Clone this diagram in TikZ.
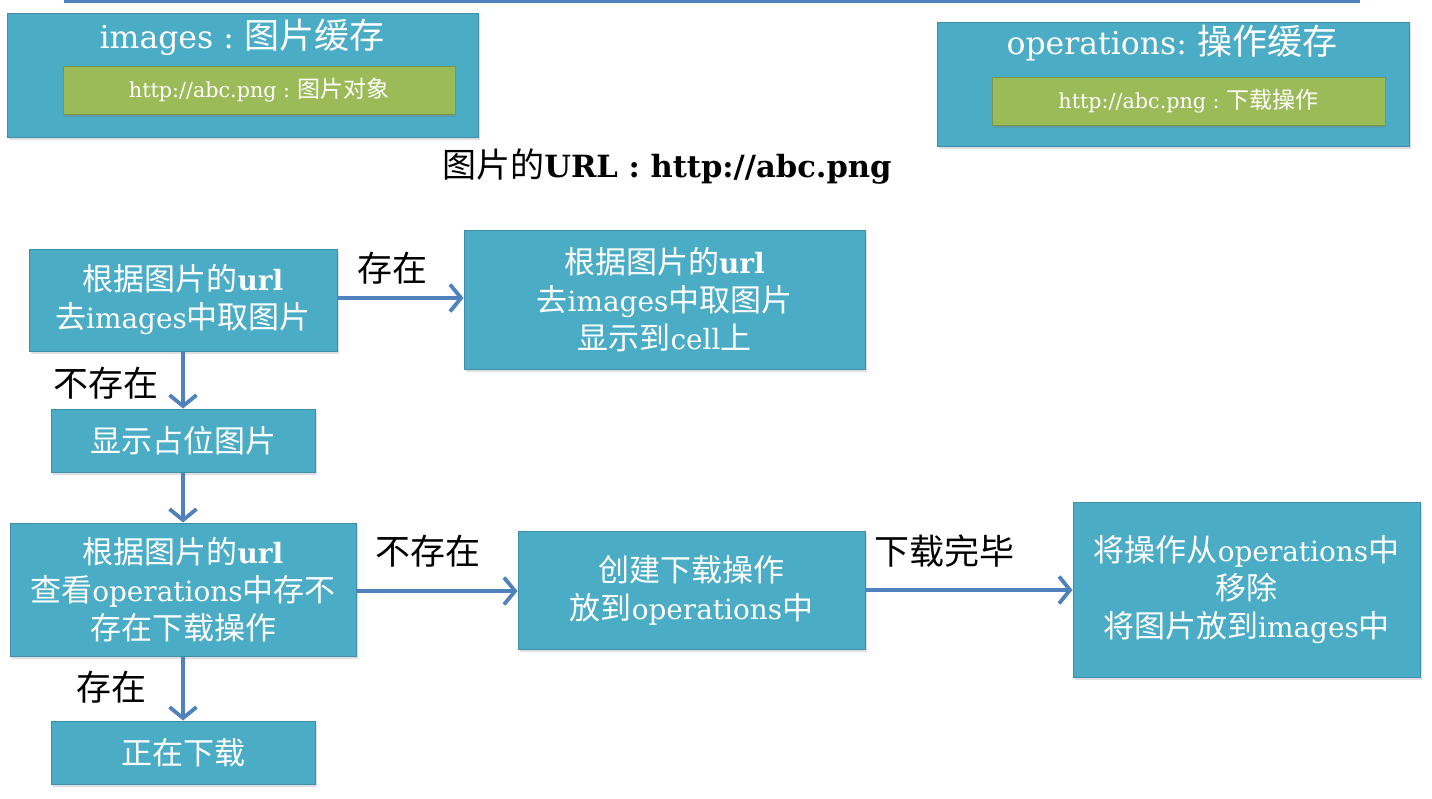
\documentclass[tikz,border=0pt]{standalone}
\usepackage{fontspec}
\setmainfont{Noto Sans CJK SC}
\newfontfamily\latf[Scale=0.9]{DejaVu Serif}
\newcommand{\latn}[1]{{\latf #1}}
\usetikzlibrary{arrows.meta,shadows}
\definecolor{boxfill}{HTML}{4BACC6}
\definecolor{boxline}{HTML}{3D8DAB}
\definecolor{greenfill}{HTML}{9BBB59}
\definecolor{arrowc}{HTML}{4F81BD}
\tikzset{
  bx/.style={draw=boxline, line width=1pt, fill=boxfill, text=white, align=center,
    drop shadow={opacity=0.25, shadow xshift=2pt, shadow yshift=-3pt}},
  gbx/.style={draw=greenfill!80!black, line width=0.6pt, fill=greenfill, text=white, align=center,
    drop shadow={opacity=0.35, shadow xshift=1pt, shadow yshift=-3pt}},
  fl/.style={font=\fontsize{31}{38}\selectfont},
  lab/.style={text=black, font=\fontsize{35}{38}\selectfont},
  arr/.style={draw=arrowc, line width=3.5pt, -{Straight Barb[length=11pt,width=27pt,line width=3.8pt]}},
}
\begin{document}
\begin{tikzpicture}[x=1pt,y=-1pt]
\useasboundingbox (0,0) rectangle (1432,798);
\fill[white] (0,0) rectangle (1432,798);
\draw[arrowc, line width=3pt] (64,1.5) -- (1360,1.5);

% cache boxes
\node[bx, minimum width=471pt, minimum height=124pt] (imgs) at (242.5,75) {};
\node[text=white, font=\fontsize{35}{38}\selectfont] (imgst) at (242,37) {\latn{images :} 图片缓存};
\node[gbx, minimum width=392pt, minimum height=48pt, font=\fontsize{23}{26}\selectfont] (imgg) at (259,90) {\latn{http://abc.png :} 图片对象};

\node[bx, minimum width=472pt, minimum height=124pt] (ops) at (1173,84) {};
\node[text=white, font=\fontsize{35}{38}\selectfont] (opst) at (1172,43) {\latn{operations:} 操作缓存};
\node[gbx, minimum width=393pt, minimum height=48pt, font=\fontsize{23}{26}\selectfont] (opsg) at (1188.5,101) {\latn{http://abc.png :} 下载操作};

\node[text=black, font=\fontsize{34}{38}\selectfont] (url) at (667,167) {图片的\latn{\bfseries URL : http://abc.png}};

% flow boxes
\node[bx, fl, minimum width=308pt, minimum height=102pt] (A) at (183,300) {根据图片的\latn{\bfseries url}\\去\latn{images}中取图片};
\node[bx, fl, minimum width=401pt, minimum height=139pt] (B) at (664.5,299.5) {根据图片的\latn{\bfseries url}\\去\latn{images}中取图片\\显示到\latn{cell}上};
\node[bx, fl, minimum width=264pt, minimum height=63pt] (C) at (183,440.5) {显示占位图片};
\node[bx, fl, minimum width=346pt, minimum height=133pt, inner sep=1pt] (D) at (183,589.5) {根据图片的\latn{\bfseries url}\\查看\latn{operations}中存不\\存在下载操作};
\node[bx, fl, minimum width=347pt, minimum height=118pt] (E) at (691.5,590) {创建下载操作\\放到\latn{operations}中};
\node[bx, fl, minimum width=347pt, minimum height=175pt, inner sep=1pt] (F) at (1246.5,589.5) {将操作从\latn{operations}中\\移除\\将图片放到\latn{images}中};
\node[bx, fl, minimum width=264pt, minimum height=63pt] (G) at (183,752.5) {正在下载};

% connectors
\draw[arr] (A.east |- 0,298) -- (B.west |- 0,298);
\node[lab] (l1) at (392,268) {存在};
\draw[arr] (A.south) -- (C.north);
\node[lab] (l2) at (106,383) {不存在};
\draw[arr] (C.south) -- (D.north);
\draw[arr] (D.east |- 0,591) -- (E.west |- 0,591);
\node[lab] (l3) at (428,551) {不存在};
\draw[arr] (E.east |- 0,590) -- (F.west |- 0,590);
\node[lab] (l4) at (944,551) {下载完毕};
\draw[arr] (D.south) -- (G.north);
\node[lab] (l5) at (111,687) {存在};
\end{tikzpicture}
\end{document}
